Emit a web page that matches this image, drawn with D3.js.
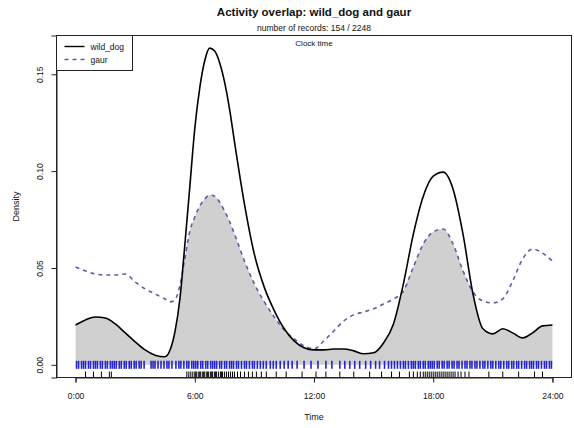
<!DOCTYPE html>
<html>
<head>
<meta charset="utf-8">
<script src="https://cdn.jsdelivr.net/npm/d3@7"></script>
<style>
  html, body { margin: 0; padding: 0; background: #fff; }
  svg { display: block; font-family: "Liberation Sans", Arial, Helvetica, sans-serif; }
</style>
</head>
<body>
<svg id="chart" width="574" height="428"></svg>
<script>
// Kernel density estimates (per hour) on a common time grid
const hours = [0,0.5,1,1.5,2,2.5,3,3.5,4,4.5,4.75,5,5.25,5.5,5.75,6,6.25,6.5,6.75,7,7.25,7.5,7.75,8,
  8.5,9,9.5,10,10.5,11,11.5,12,12.5,13,13.5,14,14.5,15,15.5,16,16.5,17,17.5,18,18.5,19,19.5,20,
  20.5,21,21.5,22,22.5,23,23.5,24];

const wildDogDensity = [0.0206,0.0232,0.0247,0.0242,0.0211,0.0165,0.0119,0.0077,0.0050,0.0042,0.0075,
  0.0170,0.0340,0.0620,0.0920,0.1220,0.1430,0.1570,0.1635,0.1620,0.1560,0.1460,0.1320,0.1150,
  0.0830,0.0570,0.0400,0.0280,0.0186,0.0124,0.0088,0.0077,0.0077,0.0082,0.0082,0.0072,0.0057,
  0.0062,0.0113,0.0211,0.0418,0.0675,0.0871,0.0974,0.0995,0.0907,0.0675,0.0366,0.0186,0.0160,
  0.0186,0.0165,0.0139,0.0165,0.0201,0.0206];

const gaurDensity = [0.0505,0.0485,0.0469,0.0464,0.0464,0.0469,0.0428,0.0392,0.0366,0.0340,0.0325,
  0.0335,0.0410,0.0550,0.0690,0.0763,0.0820,0.0856,0.0876,0.0871,0.0840,0.0794,0.0740,0.0675,
  0.0536,0.0418,0.0325,0.0247,0.0180,0.0134,0.0098,0.0082,0.0124,0.0175,0.0227,0.0258,0.0273,
  0.0289,0.0314,0.0340,0.0381,0.0505,0.0624,0.0686,0.0701,0.0624,0.0485,0.0376,0.0330,0.0320,
  0.0340,0.0433,0.0546,0.0598,0.0577,0.0536];

// Record times (hours) shown as rugs
const wildDogTimes = [0.5,0.9,1.3,1.7,1.8,
  5.6,5.7,5.8,5.9,6.0,6.05,6.1,6.2,6.25,6.3,6.4,6.45,6.5,6.6,6.65,6.7,6.8,6.85,6.9,7.0,7.05,7.1,
  7.2,7.3,7.35,7.4,7.5,7.6,7.7,7.8,7.9,8.0,8.15,8.3,8.5,8.7,8.9,9.1,9.35,9.6,
  10.1,10.6,11.4,12.1,12.6,13.3,14.0,14.8,15.4,15.9,16.3,
  16.8,17.0,17.2,17.35,17.5,17.6,17.7,17.8,17.9,18.0,18.1,18.2,18.3,18.4,18.5,18.6,18.7,18.8,
  18.9,19.0,19.1,19.25,19.4,19.6,19.8,
  20.8,21.5,22.3,23.1,23.5];

const gaurTimes = [0.05,0.15,0.3,0.4,0.5,0.65,0.75,0.9,
  1.0,1.1,1.25,1.35,1.5,1.6,1.75,1.85,1.95,
  2.05,2.2,2.3,2.45,2.55,2.7,2.8,2.95,
  3.05,3.2,3.3,3.45,3.8,3.9,
  4.0,4.15,4.3,4.45,4.6,4.7,4.85,
  5.05,5.2,5.3,5.45,5.6,5.7,5.85,5.95,
  6.05,6.15,6.3,6.4,6.55,6.65,6.8,6.9,
  7.0,7.1,7.25,7.35,7.5,7.6,7.75,7.85,7.95,
  8.1,8.2,8.35,8.5,8.6,8.75,8.9,
  9.0,9.15,9.3,9.45,9.6,9.8,9.95,
  10.1,10.3,10.5,10.7,10.9,
  11.15,11.5,11.85,
  12.2,12.6,12.9,
  13.3,13.55,13.8,
  14.05,14.3,14.6,14.85,
  15.1,15.3,15.55,15.75,15.9,
  16.05,16.2,16.35,16.5,16.6,16.75,16.9,
  17.0,17.1,17.25,17.35,17.5,17.6,17.75,17.85,17.95,
  18.05,18.2,18.3,18.45,18.55,18.7,18.8,18.95,
  19.05,19.2,19.3,19.45,19.6,19.7,19.85,19.95,
  20.1,20.2,20.35,20.5,20.6,20.75,20.9,
  21.0,21.15,21.3,21.4,21.55,21.7,21.8,21.95,
  22.05,22.2,22.3,22.45,22.6,22.7,22.85,22.95,
  23.05,23.2,23.3,23.45,23.6,23.7,23.85,23.95];

const xTicks = [0, 6, 12, 18, 24];
const xTickLabels = ["0:00", "6:00", "12:00", "18:00", "24:00"];
const yTicks = [0, 0.05, 0.10, 0.15];
const seriesNames = ["wild_dog", "gaur"];

const titleText = "Activity overlap: wild_dog and gaur";
const subtitleText = "number of records: 154 / 2248";
const timeNote = "Clock time";

const gaurLineColor = "#5c5ca8";

// ---- layout ----
const svg = d3.select("#chart");
const box = { left: 56.5, right: 571.5, top: 35.5, bottom: 377.5 };

// 4% padding on each side of the data range, as in base graphics
const xPad = (box.right - box.left) * 0.04 / 1.08;
const x = d3.scaleLinear().domain([0, 24]).range([box.left + xPad, box.right - xPad]);

const yMax = d3.max(wildDogDensity.concat(gaurDensity));
const y = d3.scaleLinear()
  .domain([-0.04 * yMax, 1.04 * yMax])
  .range([box.bottom, box.top]);

const pts = (vals) => hours.map((h, i) => [h, vals[i]]);
const overlap = hours.map((h, i) => [h, Math.min(wildDogDensity[i], gaurDensity[i])]);

// overlap shading
svg.append("path")
  .datum(overlap)
  .attr("fill", "#d0d0d0")
  .attr("d", d3.area().x(d => x(d[0])).y0(y(0)).y1(d => y(d[1])).curve(d3.curveMonotoneX));

// density curves
const line = d3.line().x(d => x(d[0])).y(d => y(d[1])).curve(d3.curveMonotoneX);
svg.append("path")
  .datum(pts(gaurDensity))
  .attr("fill", "none")
  .attr("stroke", gaurLineColor)
  .attr("stroke-width", 1.6)
  .attr("stroke-dasharray", "4,4")
  .attr("d", line);
svg.append("path")
  .datum(pts(wildDogDensity))
  .attr("fill", "none")
  .attr("stroke", "#000")
  .attr("stroke-width", 1.6)
  .attr("d", line);

// rugs
svg.append("g").selectAll("line").data(gaurTimes).join("line")
  .attr("x1", d => x(d)).attr("x2", d => x(d))
  .attr("y1", y(0) - 4).attr("y2", y(0) + 4)
  .attr("stroke", "#2424d0").attr("stroke-width", 1.6);
svg.append("g").selectAll("line").data(wildDogTimes).join("line")
  .attr("x1", d => x(d)).attr("x2", d => x(d))
  .attr("y1", box.bottom - 6).attr("y2", box.bottom)
  .attr("stroke", "#000").attr("stroke-width", 1);

// plot box
svg.append("rect")
  .attr("x", box.left).attr("y", box.top)
  .attr("width", box.right - box.left).attr("height", box.bottom - box.top)
  .attr("fill", "none").attr("stroke", "#222").attr("stroke-width", 1);

// x axis
const xAxis = d3.axisBottom(x).tickValues(xTicks)
  .tickFormat((d, i) => xTickLabels[i]).tickSize(5).tickPadding(10);
const gx = svg.append("g").attr("transform", `translate(0,${box.bottom})`).call(xAxis);
gx.select(".domain").attr("stroke", "#222");
gx.selectAll(".tick line").attr("stroke", "#222");
gx.selectAll("text").attr("font-size", 8.5).attr("fill", "#111");

// y axis with rotated labels
const yAxis = d3.axisLeft(y).tickValues(yTicks).tickFormat(d3.format(".2f")).tickSize(5);
const gy = svg.append("g").attr("transform", `translate(${box.left},0)`).call(yAxis);
gy.select(".domain").attr("stroke", "#222");
gy.selectAll(".tick line").attr("stroke", "#222");
gy.selectAll("text")
  .attr("font-size", 8.5).attr("fill", "#111")
  .attr("x", 0).attr("dy", 0)
  .attr("text-anchor", "middle")
  .attr("transform", "translate(-14,0) rotate(-90)");

// axis titles
svg.append("text")
  .attr("x", (box.left + box.right) / 2).attr("y", 420)
  .attr("text-anchor", "middle").attr("font-size", 9).attr("fill", "#111")
  .text("Time");
svg.append("text")
  .attr("transform", `translate(19,${(box.top + box.bottom) / 2}) rotate(-90)`)
  .attr("text-anchor", "middle").attr("font-size", 9).attr("fill", "#111")
  .text("Density");

// titles
const cx = (box.left + box.right) / 2;
svg.append("text").attr("x", cx).attr("y", 16)
  .attr("text-anchor", "middle").attr("font-size", 11.5).attr("font-weight", "bold")
  .attr("fill", "#111").text(titleText);
svg.append("text").attr("x", cx).attr("y", 31)
  .attr("text-anchor", "middle").attr("font-size", 8.5).attr("fill", "#111")
  .text(subtitleText);
svg.append("text").attr("x", cx).attr("y", 46)
  .attr("text-anchor", "middle").attr("font-size", 8).attr("fill", "#111")
  .text(timeNote);

// legend
const leg = svg.append("g");
leg.append("rect")
  .attr("x", box.left).attr("y", box.top)
  .attr("width", 76).attr("height", 35)
  .attr("fill", "#fff").attr("stroke", "#222").attr("stroke-width", 1);
const legStyles = [
  { stroke: "#000", dash: null },
  { stroke: gaurLineColor, dash: "4,4" }
];
seriesNames.forEach((name, i) => {
  const ly = box.top + 11 + i * 13;
  leg.append("line")
    .attr("x1", box.left + 8).attr("x2", box.left + 28)
    .attr("y1", ly).attr("y2", ly)
    .attr("stroke", legStyles[i].stroke).attr("stroke-width", 1.4)
    .attr("stroke-dasharray", legStyles[i].dash);
  leg.append("text")
    .attr("x", box.left + 34).attr("y", ly + 3)
    .attr("font-size", 8.5).attr("fill", "#111")
    .text(name);
});
</script>
</body>
</html>
